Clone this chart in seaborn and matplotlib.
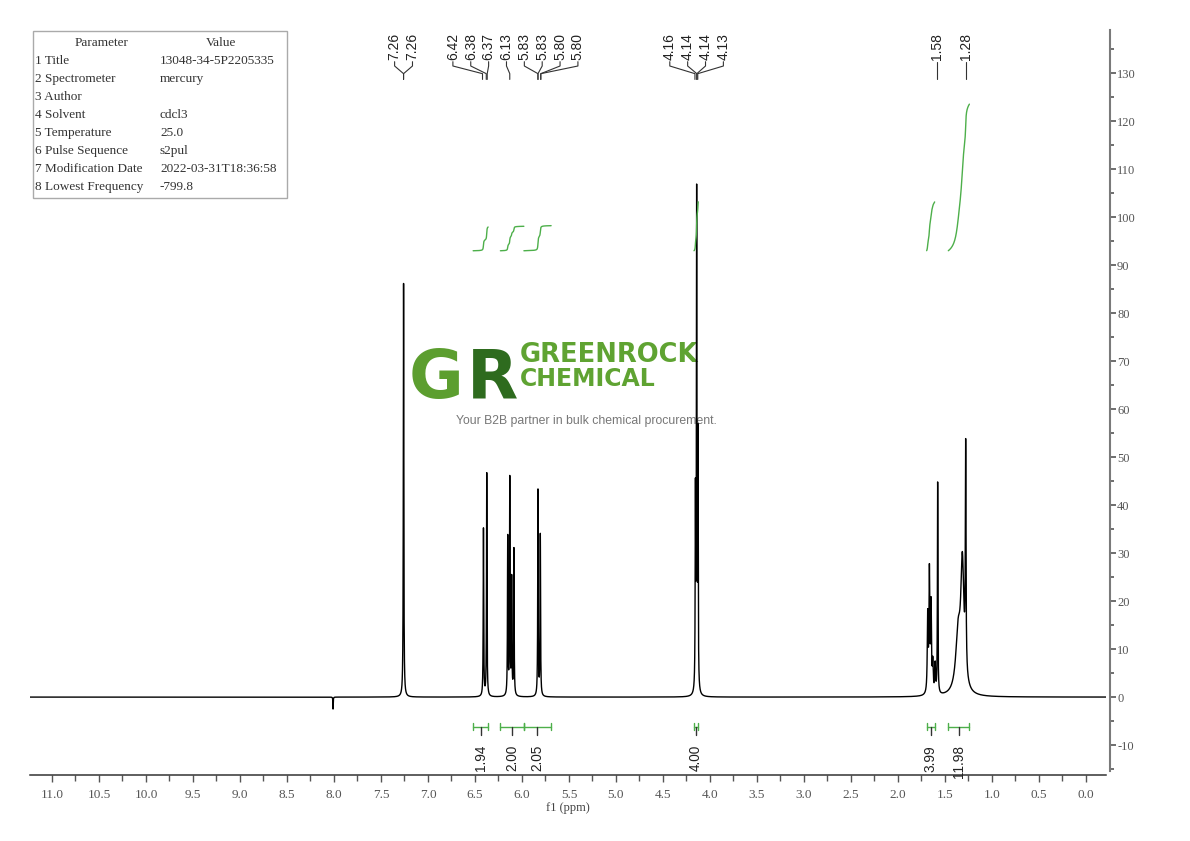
import numpy as np
import pandas as pd
import matplotlib
matplotlib.use('Agg')
import matplotlib.pyplot as plt
from matplotlib.ticker import MultipleLocator, FormatStrFormatter
from matplotlib.patches import Rectangle
import seaborn as sns

sns.set_theme(style='white')
plt.rcParams['font.family'] = ['Liberation Serif', 'DejaVu Serif']
plt.rcParams['axes.unicode_minus'] = False

# Peaks: position (ppm), height, half width (ppm)
peak_ppm = [7.260, 6.410, 6.375, 6.152, 6.130, 6.110, 6.086, 5.830, 5.805,
            4.155, 4.142, 4.128, 1.684, 1.666, 1.648, 1.630, 1.605, 1.578,
            1.360, 1.315, 1.280, 8.010]
peak_height = [86.5, 35.0, 46.5, 33.0, 45.0, 24.0, 30.5, 43.0, 33.5,
               40.0, 103.0, 52.0, 16.0, 25.0, 18.0, 6.0, 6.0, 44.0,
               12.0, 26.0, 46.0, -2.5]
peak_width = [0.003, 0.003, 0.003, 0.003, 0.003, 0.003, 0.003, 0.003, 0.003,
              0.003, 0.003, 0.003, 0.005, 0.005, 0.005, 0.005, 0.005, 0.003,
              0.030, 0.020, 0.004, 0.002]

# Peak labels at top
peak_labels = ['7.26', '7.26', '6.42', '6.38', '6.37', '6.13', '5.83', '5.83',
               '5.80', '5.80', '4.16', '4.14', '4.14', '4.13', '1.58', '1.28']

# Integration regions
int_start = [6.52, 6.23, 5.98, 4.170, 1.695, 1.465]
int_end = [6.36, 5.98, 5.69, 4.125, 1.610, 1.240]
int_values = [1.94, 2.00, 2.05, 4.00, 3.99, 11.98]

# Acquisition parameters
param_names = ['1 Title', '2 Spectrometer', '3 Author', '4 Solvent', '5 Temperature',
               '6 Pulse Sequence', '7 Modification Date', '8 Lowest Frequency']
param_values = ['13048-34-5P2205335', 'mercury', '', 'cdcl3', '25.0', 's2pul',
                '2022-03-31T18:36:58', '-799.8']

W, H = 1190, 841
XMAX, XMIN = 11.234, -0.213
green = '#4daf4a'

# build spectrum
ppm = np.linspace(XMAX, XMIN, 24000)
inten = np.zeros_like(ppm)
for p, h, g in zip(peak_ppm, peak_height, peak_width):
    inten += h * g**2 / ((ppm - p)**2 + g**2)
df = pd.DataFrame({'ppm': ppm, 'intensity': inten})

fig = plt.figure(figsize=(W / 100, H / 100), dpi=100)
ax = fig.add_axes([30 / W, (H - 771) / H, (1106 - 30) / W, (771 - 30) / H])
ax.set_facecolor('none')

sns.lineplot(data=df, x='ppm', y='intensity', ax=ax, color='black', lw=1.0,
             sort=False, estimator=None, zorder=3)

# integral curves and brackets
for lo, hi, v in zip(int_start, int_end, int_values):
    m = (ppm <= lo) & (ppm >= hi)
    seg = np.cumsum(df['intensity'][m].clip(lower=0).values)
    curve = 93.0 + 2.55 * v * seg / seg[-1]
    sns.lineplot(x=ppm[m], y=curve, ax=ax, color=green, lw=1.0, sort=False,
                 estimator=None, zorder=3)
    ax.plot([lo, hi], [-6.2, -6.2], color=green, lw=1.0)
    ax.plot([lo, lo], [-5.5, -6.9], color=green, lw=1.0)
    ax.plot([hi, hi], [-5.5, -6.9], color=green, lw=1.0)
    mid = (lo + hi) / 2
    ax.plot([mid, mid], [-6.2, -8.0], color='#333333', lw=1.0)
    ax.text(mid, -10.0, f'{v:.2f}', rotation=90, ha='center', va='top',
            fontsize=9.8, family='Liberation Sans', color='#222222')


def spread(targets, gap):
    clusters = [[t] for t in targets]
    merged = True
    while merged:
        merged = False
        out = []
        for c in clusters:
            if out:
                prev = out[-1]
                prev_last = np.mean(prev) - (len(prev) - 1) / 2 * gap
                cur_first = np.mean(c) + (len(c) - 1) / 2 * gap
                if prev_last - cur_first < gap:
                    out[-1] = prev + c
                    merged = True
                    continue
            out.append(c)
        clusters = out
    pos = []
    for c in clusters:
        mc = np.mean(c)
        pos += [mc + ((len(c) - 1) / 2 - k) * gap for k in range(len(c))]
    return pos


targets = [float(s) for s in peak_labels]
label_pos = spread(targets, 0.19)
for lab, t, lx in zip(peak_labels, targets, label_pos):
    ax.text(lx, 132.8, lab, rotation=90, ha='center', va='bottom',
            fontsize=10, family='Liberation Sans', color='#222222')
    ax.plot([lx, lx, t, t], [132.4, 131.5, 129.9, 128.7], color='#333333', lw=0.8)

# axes styling
ax.set_xlim(XMAX, XMIN)
ax.set_ylim(-15.4, 139.0)
ax.spines['left'].set_visible(False)
ax.spines['top'].set_visible(False)
ax.spines['right'].set_position(('outward', 3))
ax.spines['bottom'].set_position(('outward', 3))
ax.spines['right'].set_color('#7a7a7a')
ax.spines['right'].set_linewidth(1.5)
ax.spines['bottom'].set_color('#333333')
ax.spines['bottom'].set_linewidth(1.1)
ax.yaxis.tick_right()
ax.yaxis.set_major_locator(MultipleLocator(10))
ax.yaxis.set_minor_locator(MultipleLocator(5))
ax.xaxis.set_major_locator(MultipleLocator(0.5))
ax.xaxis.set_minor_locator(MultipleLocator(0.25))
ax.xaxis.set_major_formatter(FormatStrFormatter('%.1f'))
ax.set_yticks(np.arange(-10, 131, 10))
ax.tick_params(axis='y', which='both', direction='out', right=True, left=False,
               colors='#555555', labelsize=9, length=4, width=1.2, pad=1)
ax.tick_params(axis='y', which='minor', length=3)
ax.tick_params(axis='x', which='both', direction='out', bottom=True,
               colors='#555555', labelsize=9.5, length=5, width=1.0, pad=5)
ax.tick_params(axis='x', which='minor', length=4)
ax.set_xlabel('f1 (ppm)', fontsize=9, color='#444444', labelpad=1)
ax.set_ylabel('')
ax.grid(False)

# parameter table
fig.patches.append(Rectangle((33 / W, 1 - 198 / H), 254 / W, 167 / H,
                             transform=fig.transFigure, fill=False,
                             edgecolor='#aaaaaa', lw=1.0))
fig.text(102 / W, 1 - 43 / H, 'Parameter', ha='center', va='center', fontsize=9.5, color='#333333')
fig.text(221 / W, 1 - 43 / H, 'Value', ha='center', va='center', fontsize=9.5, color='#333333')
for i, (n, v) in enumerate(zip(param_names, param_values)):
    yy = 1 - (61 + 18 * i) / H
    fig.text(35 / W, yy, n, ha='left', va='center', fontsize=9.5, color='#333333')
    fig.text(160 / W, yy, v, ha='left', va='center', fontsize=9.5, color='#333333')

# watermark logo (under the spectrum)
tf = fig.transFigure
ax.text(409 / W, 1 - 398 / H, 'G', transform=tf, fontsize=48, fontweight='bold',
        family='DejaVu Sans', color='#5c9e2f', va='baseline', ha='left', zorder=1)
ax.text(467 / W, 1 - 398 / H, 'R', transform=tf, fontsize=48, fontweight='bold',
        family='DejaVu Sans', color='#2e6b1e', va='baseline', ha='left', zorder=1)
ax.text(520 / W, 1 - 362 / H, 'GREENROCK', transform=tf, fontsize=18.5, fontweight='bold',
        family='DejaVu Sans', color='#5fa332', va='baseline', ha='left', zorder=1)
ax.text(520 / W, 1 - 386 / H, 'CHEMICAL', transform=tf, fontsize=17, fontweight='bold',
        family='DejaVu Sans', color='#5fa332', va='baseline', ha='left', zorder=1)
ax.text(456 / W, 1 - 421 / H, 'Your B2B partner in bulk chemical procurement.', transform=tf,
        fontsize=8.8, family='Liberation Sans', color='#777777', va='center', ha='left', zorder=1)

fig.savefig('out.png', dpi=100, facecolor='white')
